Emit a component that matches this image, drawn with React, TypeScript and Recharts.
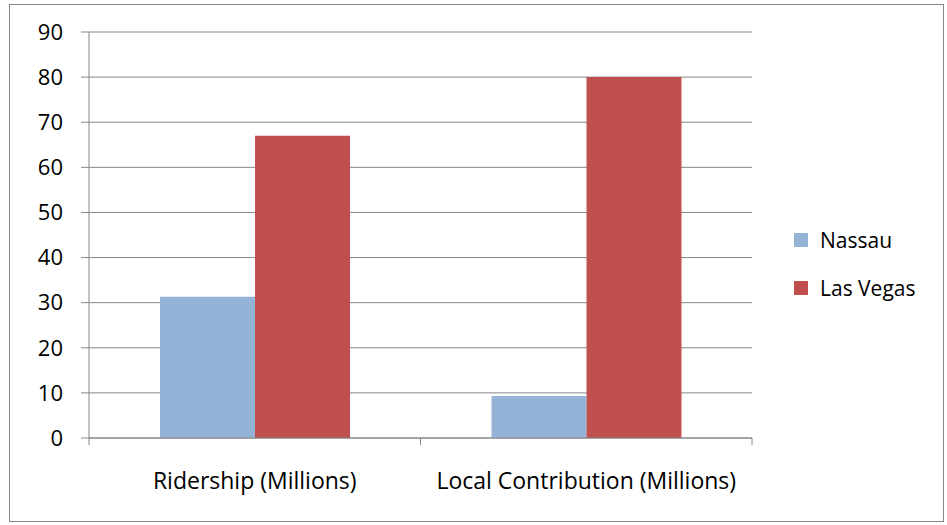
import React from 'react';
import { BarChart, Bar, XAxis, YAxis, CartesianGrid } from 'recharts';

const categories = ['Ridership (Millions)', 'Local Contribution  (Millions)'];
const nassau = [31.3, 9.3];
const lasVegas = [67, 80];
const yTicks = [0, 10, 20, 30, 40, 50, 60, 70, 80, 90];
const boundaryTicks = [0, 1, 2];

const series = [
  { key: 'nassau', name: 'Nassau', color: '#95B3D7' },
  { key: 'lasVegas', name: 'Las Vegas', color: '#C0504D' },
];

const chartData = categories.map((c, i) => ({ category: c, nassau: nassau[i], lasVegas: lasVegas[i], pos: i + 0.5 }));

const font = '"Open Sans", Lato, sans-serif';
const gray = '#868686';

export default function App() {
  return (
    <div style={{ position: 'absolute', left: 0, top: 0, width: 947, height: 525, background: '#fff', fontFamily: font }}>
      <div
        style={{
          position: 'absolute',
          left: 9,
          top: 4,
          width: 935,
          height: 518,
          border: `1px solid ${gray}`,
          boxSizing: 'border-box',
        }}
      />
      <div style={{ position: 'absolute', left: 0, top: 0 }}>
        <BarChart
          width={947}
          height={525}
          data={chartData}
          margin={{ top: 32, right: 195, left: 9, bottom: 27 }}
          barCategoryGap={71}
          barGap={0}
        >
          <CartesianGrid vertical={false} stroke={gray} strokeWidth={1} />
          <XAxis
            dataKey="category"
            height={60}
            tickSize={0}
            tickMargin={35}
            axisLine={{ stroke: gray }}
            tickLine={false}
            tick={{ fill: '#000', fontSize: 23, fontFamily: font }}
          />
          <XAxis
            xAxisId="bounds"
            dataKey="pos"
            type="number"
            domain={[0, 2]}
            allowDataOverflow
            ticks={boundaryTicks}
            interval={0}
            orientation="bottom"
            mirror
            height={1}
            axisLine={false}
            tickSize={-7}
            tickLine={{ stroke: gray }}
            tick={{ fill: 'none', fontSize: 1 }}
          />
          <YAxis
            width={80}
            domain={[0, 90]}
            ticks={yTicks}
            interval={0}
            tickSize={8}
            tickMargin={18}
            axisLine={{ stroke: gray }}
            tickLine={{ stroke: gray }}
            tick={{ fill: '#000', fontSize: 22, fontFamily: font }}
          />
          {series.map((s) => (
            <Bar key={s.key} dataKey={s.key} name={s.name} fill={s.color} isAnimationActive={false} />
          ))}
        </BarChart>
      </div>
      {series.map((s, i) => (
        <div
          key={s.key}
          style={{ position: 'absolute', left: 794, top: 228 + i * 48, display: 'flex', alignItems: 'center', height: 24 }}
        >
          <div style={{ width: 14, height: 14, background: s.color, marginRight: 12 }} />
          <span style={{ fontSize: 21, color: '#000', lineHeight: '24px' }}>{s.name}</span>
        </div>
      ))}
    </div>
  );
}
